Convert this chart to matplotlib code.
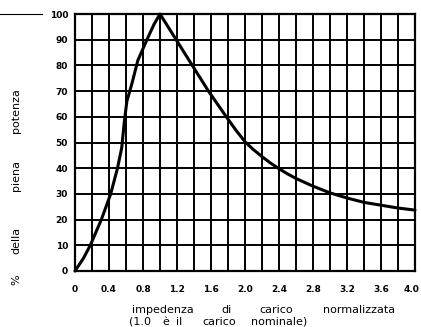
import matplotlib
matplotlib.use("Agg")
import matplotlib.pyplot as plt
from matplotlib.lines import Line2D
from matplotlib.ticker import MultipleLocator
from matplotlib.transforms import ScaledTranslation

# Power delivered vs. normalised load impedance
impedance = [0, 0.1, 0.18, 0.31, 0.42, 0.5, 0.55, 0.58, 0.61, 0.67, 0.74, 0.86, 0.93, 1.0,
             1.19, 1.38, 1.57, 1.78, 1.9, 2.0, 2.1, 2.2, 2.3, 2.4, 2.5, 2.6, 2.8,
             3.0, 3.2, 3.4, 3.6, 3.8, 4.0]
power_pct = [0, 5, 10, 20, 30, 40, 48, 58, 66, 73, 82, 91, 96, 100,
             90, 80, 70, 60, 54.5, 50.3, 47.2, 44.5, 42, 39.8, 37.8, 36, 33,
             30.4, 28.4, 26.7, 25.6, 24.5, 23.7]

x_ticks = [0, 0.4, 0.8, 1.2, 1.6, 2.0, 2.4, 2.8, 3.2, 3.6, 4.0]
x_tick_labels = ["0", "0.4", "0.8", "1.2", "1.6", "2.0", "2.4", "2.8", "3.2", "3.6", "4.0"]
y_ticks = [0, 10, 20, 30, 40, 50, 60, 70, 80, 90, 100]

W, H = 421, 327
fig = plt.figure(figsize=(W / 100, H / 100), dpi=100)
ax = fig.add_axes([75 / W, 1 - 271 / H, 340 / W, 257 / H])

ax.set_xlim(0, 4.0)
ax.set_ylim(0, 100)
ax.xaxis.set_minor_locator(MultipleLocator(0.2))
ax.set_xticks(x_ticks)
ax.set_xticklabels(x_tick_labels)
ax.set_yticks(y_ticks)
ax.grid(True, which="both", color="black", linewidth=1.4)
ax.set_axisbelow(True)
for s in ax.spines.values():
    s.set_linewidth(1.6)
ax.tick_params(which="both", length=0)
ax.tick_params(axis="x", pad=10, labelsize=6.5)
ax.tick_params(axis="y", pad=5, labelsize=6.5)
for lab in ax.get_xticklabels() + ax.get_yticklabels():
    lab.set_fontweight("bold")
# keep the last x label inside the figure
last = ax.get_xticklabels()[-1]
last.set_transform(last.get_transform() + ScaledTranslation(-4 / 100, 0, fig.dpi_scale_trans))

ax.plot(impedance, power_pct, color="black", linewidth=2.2, solid_joinstyle="round",
        solid_capstyle="round", clip_on=False, zorder=3)

# leader line at the top-left
fig.add_artist(Line2D([0, 42 / W], [1 - 14 / H, 1 - 14 / H], color="black", linewidth=0.8))

# x-axis caption, spread out word by word
line1 = [("impedenza", 163), ("di", 226), ("carico", 276.5), ("normalizzata", 359)]
line2 = [("(1.0", 140), ("è", 165.5), ("il", 179), ("carico", 219), ("nominale)", 279)]
for word, xc in line1:
    fig.text(xc / W, 1 - 310 / H, word, ha="center", va="center", fontsize=8)
for word, xc in line2:
    fig.text(xc / W, 1 - 322 / H, word, ha="center", va="center", fontsize=8)

# y-axis caption
ylab = [("potenza", 111), ("piena", 176), ("della", 240), ("%", 280)]
for word, yc in ylab:
    fig.text(16 / W, 1 - yc / H, word, ha="center", va="center", rotation=90, fontsize=8)

fig.savefig("out.png", dpi=100, facecolor="white")
